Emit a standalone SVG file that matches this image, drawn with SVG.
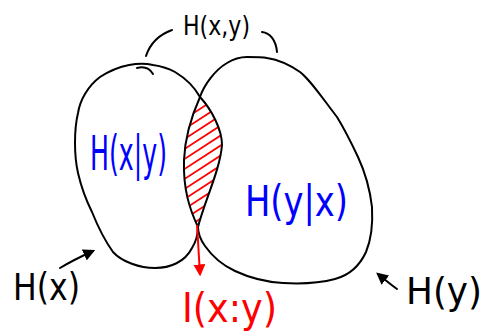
<svg xmlns="http://www.w3.org/2000/svg" width="489" height="334" viewBox="0 0 489 334">
<style>
.o{fill:none;stroke:#000;stroke-width:2;stroke-linecap:round;stroke-linejoin:round}
.r{fill:none;stroke:#f00;stroke-width:1.8;stroke-linecap:round}
.t{font-family:"DejaVu Sans","Liberation Sans",sans-serif;font-weight:normal}
.bl{fill:#00f}
.bk{fill:#000}
.rd{fill:#f00}
</style>
<defs>
<clipPath id="lens"><path d="M200,97 C212,110 222,130 222,145 C220,170 205,200 198,227 C190,210 183,190 184,160 C185,135 192,115 200,97 Z"/></clipPath>
<marker id="ah" viewBox="0 0 10 10" refX="8" refY="5" markerWidth="6" markerHeight="6" orient="auto"><path d="M0,0 L10,5 L0,10 Z" fill="#000"/></marker>
<marker id="ahr" viewBox="0 0 10 10" refX="8" refY="5" markerWidth="6" markerHeight="6" orient="auto"><path d="M0,0 L10,5 L0,10 Z" fill="#f00"/></marker>
</defs>
<g id="hatch" clip-path="url(#lens)">
<g class="r">
<path d="M180,122 L226,92"/><path d="M180,132 L226,102"/><path d="M180,142 L226,112"/><path d="M180,152 L226,122"/><path d="M180,162 L226,132"/><path d="M180,172 L226,142"/><path d="M180,182 L226,152"/><path d="M180,192 L226,162"/><path d="M180,202 L226,172"/><path d="M180,212 L226,182"/><path d="M180,222 L226,192"/><path d="M180,232 L226,202"/>
</g>
</g>
<g id="left-blob">
<path class="o" d="M153,65 C140,62 120,64 100,77 C88,86 80,100 78,113 C74,130 74,155 78,173 C81,186 85,198 92,212 C96,222 103,238 113,252 C122,262 140,268 155,268 C170,268 185,262 192,248 C197,240 198,233 198,227 C205,200 220,170 222,145 C222,130 212,110 200,97 C195,88 185,78 175,72 C168,68 160,66 153,65 Z"/>
<path class="o" d="M137,68 C145,66 150,69 153,74"/>
</g>
<g id="right-blob">
<path class="o" d="M200,97 C204,85 215,70 227,63 C235,58 242,57 247,57 C256,57 262,57 267,58 C280,60 290,65 300,72 C310,80 318,92 337,117 C345,130 350,140 358,157 C365,172 370,190 372,207 C373,225 371,240 366,252 C360,265 350,275 335,279 C320,283 300,284 283,283 C265,282 250,278 235,271 C222,265 212,256 205,246 C200,239 198,233 198,227 C190,210 183,190 184,160 C185,135 192,115 200,97 Z"/>
</g>
<g id="hxy">
<path class="o" d="M146,56 C150,44 158,35 172,30"/>
<path class="o" d="M262,32 C270,33 276,40 277,52"/>
<text class="t bk" x="183" y="35" font-size="27" textLength="67" lengthAdjust="spacingAndGlyphs">H(x,y)</text>
</g>
<g id="hx_given_y"><text class="t bl" x="90" y="170" font-size="48" textLength="77" lengthAdjust="spacingAndGlyphs">H(x|y)</text></g>
<g id="hy_given_x"><text class="t bl" x="245" y="216" font-size="42" textLength="103" lengthAdjust="spacingAndGlyphs">H(y|x)</text></g>
<g id="hx"><text class="t bk" x="13" y="300" font-size="37" textLength="67" lengthAdjust="spacingAndGlyphs">H(x)</text></g>
<g id="hy"><text class="t bk" x="406" y="304" font-size="38" textLength="76" lengthAdjust="spacingAndGlyphs">H(y)</text></g>
<g id="ixy"><text class="t rd" x="182" y="322" font-size="40" textLength="95" lengthAdjust="spacingAndGlyphs">I(x:y)</text></g>
<g id="connectors">
<path class="o" d="M60,268 C70,262 82,256 93,251" marker-end="url(#ah)"/>
<path class="o" d="M397,289 C390,284 384,279 378,274" marker-end="url(#ah)"/>
<path d="M197,225 L200,274" fill="none" stroke="#f00" stroke-width="2" marker-end="url(#ahr)"/>
</g>
</svg>
